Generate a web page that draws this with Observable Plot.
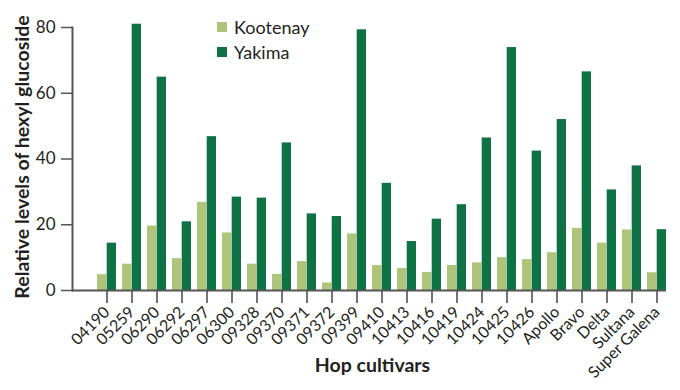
<!DOCTYPE html>
<html>
<head>
<meta charset="utf-8">
<script src="https://cdn.jsdelivr.net/npm/d3@7"></script>
<script src="https://cdn.jsdelivr.net/npm/@observablehq/plot@0.6"></script>
<style>
  body { margin: 0; background: white; }
  #wrap { position: relative; width: 680px; height: 390px; font-family: Lato, "Open Sans", sans-serif; color: #231f20; }
  .legend { position: absolute; left: 217px; top: 15px; font-size: 18px; line-height: 24.7px; }
  .legend div { display: flex; align-items: center; }
  .legend span.sw { display: inline-block; width: 10px; height: 10px; margin-right: 7px; }
</style>
</head>
<body>
<div id="wrap"></div>
<script>
const cultivars = ["04190","05259","06290","06292","06297","06300","09328","09370","09371","09372","09399","09410","10413","10416","10419","10424","10425","10426","Apollo","Bravo","Delta","Sultana","Super Galena"];
const kootenay = [4.8, 8.0, 19.6, 9.7, 26.8, 17.5, 8.0, 4.9, 8.8, 2.3, 17.2, 7.6, 6.7, 5.5, 7.6, 8.4, 10.0, 9.4, 11.5, 18.9, 14.4, 18.4, 5.4];
const yakima   = [14.4, 81.0, 64.9, 20.9, 46.8, 28.4, 28.1, 44.9, 23.3, 22.5, 79.3, 32.6, 14.9, 21.7, 26.1, 46.4, 73.9, 42.4, 52.0, 66.5, 30.6, 37.9, 18.5];
const series = ["Kootenay", "Yakima"];
const colors = ["#adc47a", "#0e7244"];
const yTicks = [0, 20, 40, 60, 80];

const data = cultivars.map((c, i) => ({cultivar: c, kootenay: kootenay[i], yakima: yakima[i]}));

const half = 9.7;
const chart = Plot.plot({
  width: 680, height: 390,
  marginLeft: 72, marginRight: 14, marginTop: 27, marginBottom: 100,
  style: {fontFamily: "Lato, 'Open Sans', sans-serif", fontSize: "16px", color: "#231f20", background: "white", overflow: "visible"},
  x: {domain: cultivars, paddingInner: 0.245, paddingOuter: 0.2, align: 1, label: null},
  y: {domain: [0, 80], label: null},
  marks: [
    Plot.barY(data, {x: "cultivar", y: "kootenay", fill: colors[0], insetRight: half}),
    Plot.barY(data, {x: "cultivar", y: "yakima", fill: colors[1], insetLeft: half}),
    Plot.axisX({tickSize: 13, tickPadding: 6, tickRotate: -45, stroke: "#444", strokeWidth: 1.5, fontSize: 16, label: null}),
    Plot.axisY({ticks: yTicks, tickSize: 11, tickPadding: 6, stroke: "#555", strokeWidth: 1.5, fontSize: 17, label: null}),
    Plot.ruleY([0], {stroke: "#555", strokeWidth: 2}),
    Plot.frame({anchor: "left", stroke: "#555", strokeWidth: 2}),
    Plot.text(["Relative levels of hexyl glucoside"], {frameAnchor: "left", textAnchor: "middle", lineAnchor: "middle", rotate: -90, dx: -50, dy: -2, fontWeight: "bold", fontSize: 19.5, fill: "#231f20"}),
    Plot.text(["Hop cultivars"], {frameAnchor: "bottom", textAnchor: "middle", lineAnchor: "middle", dx: 3, dy: 75, fontWeight: "bold", fontSize: 19.5, fill: "#231f20"})
  ]
});

const wrap = document.getElementById("wrap");
wrap.appendChild(chart);
const leg = document.createElement("div");
leg.className = "legend";
series.forEach((s, i) => {
  const row = document.createElement("div");
  row.innerHTML = `<span class="sw" style="background:${colors[i]}"></span>${s}`;
  leg.appendChild(row);
});
wrap.appendChild(leg);
</script>
</body>
</html>
